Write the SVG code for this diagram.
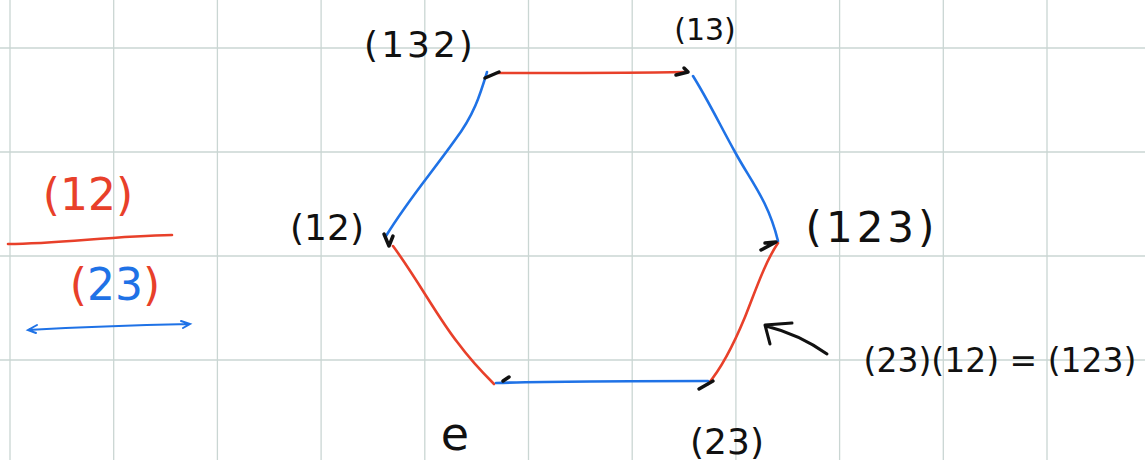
<svg xmlns="http://www.w3.org/2000/svg" width="1145" height="460" viewBox="0 0 1145 460">
<style>
.grid{stroke:#cad6d3;stroke-width:1.3}
.red{stroke:#e8402a;stroke-width:2.6;fill:none;stroke-linecap:round}
.blue{stroke:#1f72e6;stroke-width:2.6;fill:none;stroke-linecap:round}
.ah{stroke:#111;stroke-width:3.5;fill:none;stroke-linecap:round;stroke-linejoin:round}
.lbl{font-family:"DejaVu Sans","Liberation Sans",sans-serif;fill:#111;text-anchor:middle;font-weight:400}
</style>
<rect width="1145" height="460" fill="#fff"/>
<g id="grid">
<path class="grid" d="M10,0V460M113.7,0V460M217.4,0V460M321.1,0V460M424.8,0V460M528.5,0V460M632.2,0V460M735.9,0V460M839.6,0V460M943.3,0V460M1047,0V460M0,48H1145M0,152H1145M0,256H1145M0,360H1145"/>
</g>
<g id="connectors">
<path class="red" d="M498,73 C560,73 630,73 686,72"/>
<path class="blue" d="M487,72 C480,95 474,115 455,140 C430,175 408,200 386,236"/>
<path class="blue" d="M693,76 C708,100 720,125 735,152 C750,180 768,200 778,241"/>
<path class="red" d="M393,246 C418,280 438,318 458,343 C472,362 485,375 494,384"/>
<path class="red" d="M778,243 C765,262 755,292 745,317 C733,346 720,370 708,384"/>
<path class="blue" d="M496,383 C560,381 640,381 708,381"/>
<path class="ah" d="M485,78 L499,72"/>
<path class="ah" d="M676,75 L688,72 L684,68"/>
<path class="ah" d="M503,381 L509,377"/>
<path class="ah" d="M699,389 L713,381"/>
<path class="ah" d="M384,234 L389,246 L393,236"/>
<path class="ah" d="M761,250 L776,242 L765,243"/>
<path d="M827,354 C810,342 790,332 766,326 M792,323 L765,325 L770,344" stroke="#111" stroke-width="3" fill="none" stroke-linecap="round" stroke-linejoin="round"/>
</g>
<g id="legend">
<text x="88" y="210" font-family="DejaVu Sans,sans-serif" font-size="44" fill="#e8402a" text-anchor="middle">(12)</text>
<path class="red" d="M8,244 C60,244 110,236 172,235"/>
<text x="115" y="300" font-family="DejaVu Sans,sans-serif" font-size="44" text-anchor="middle"><tspan fill="#e8402a">(</tspan><tspan fill="#1f72e6">23</tspan><tspan fill="#e8402a">)</tspan></text>
<path d="M28,330 C80,327 140,325 190,324 M37,325 L28,330 L36,333 M181,321 L190,324 L183,328" stroke="#1f72e6" stroke-width="2" fill="none" stroke-linecap="round"/>
</g>
<g id="node-132"><text class="lbl" x="420" y="57" font-size="36" letter-spacing="3">(132)</text></g>
<g id="node-13"><text class="lbl" x="705" y="40" font-size="30">(13)</text></g>
<g id="node-12"><text class="lbl" x="327" y="240" font-size="36">(12)</text></g>
<g id="node-123"><text class="lbl" x="872" y="242" font-size="42" letter-spacing="4">(123)</text></g>
<g id="node-23"><text class="lbl" x="727" y="454" font-size="36">(23)</text></g>
<g id="node-e"><text class="lbl" x="455" y="450" font-size="46">e</text></g>
<g id="note"><text class="lbl" x="1000" y="372" font-size="33">(23)(12) = (123)</text></g>
</svg>
